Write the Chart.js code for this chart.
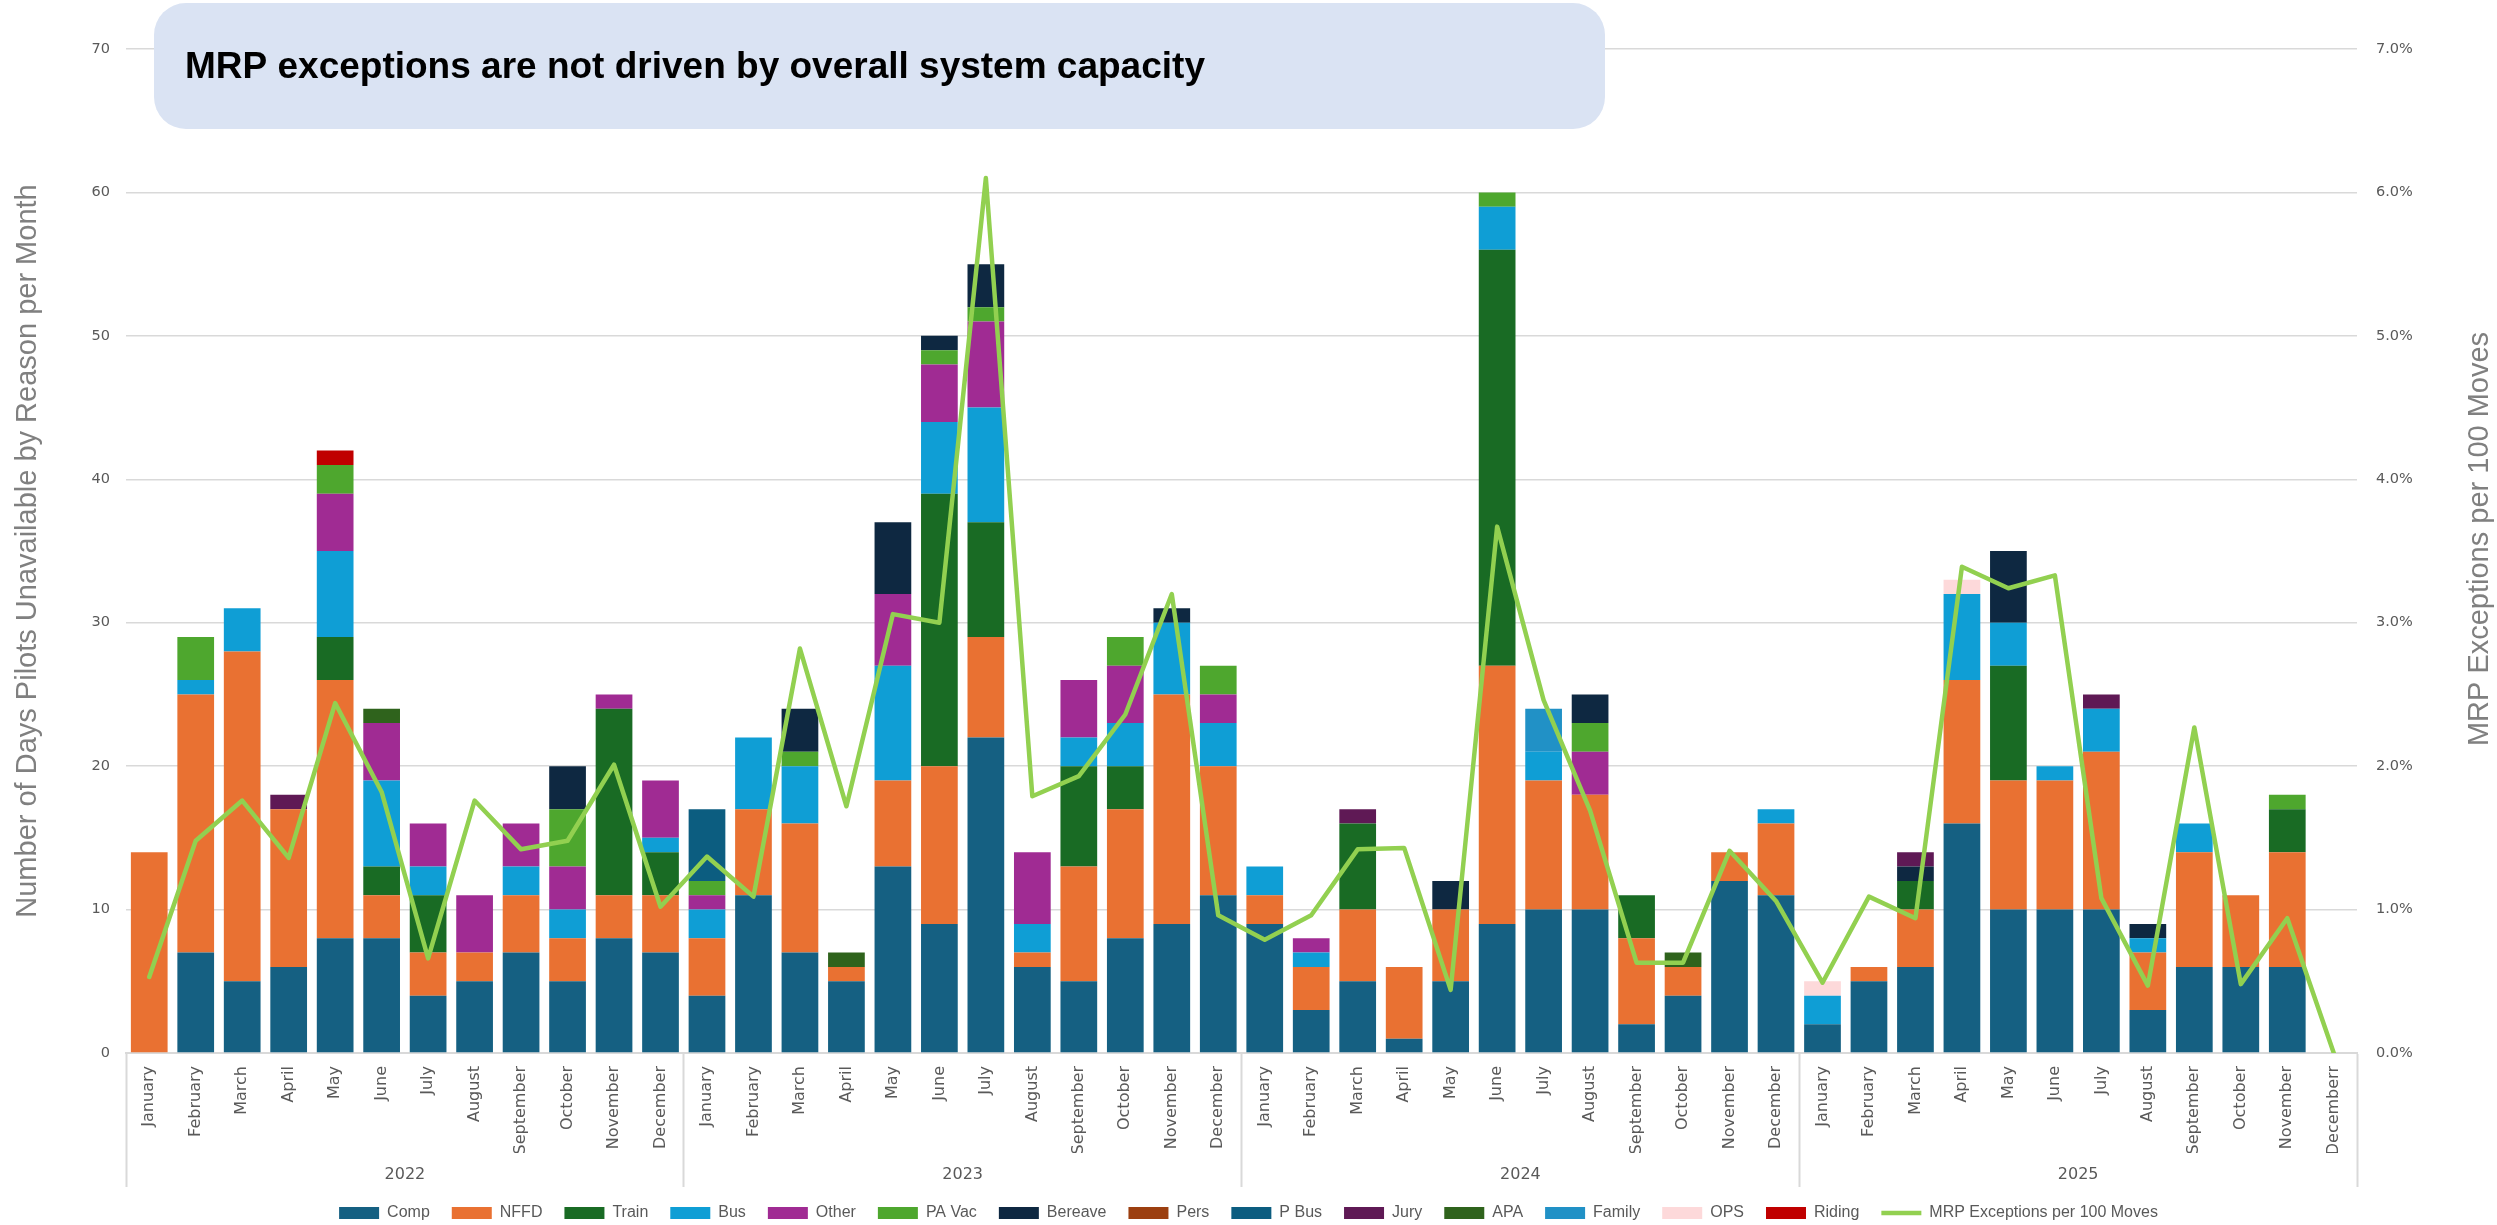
<!DOCTYPE html>
<html>
<head>
<meta charset="utf-8">
<script src="https://cdn.jsdelivr.net/npm/chart.js@4.4.1/dist/chart.umd.min.js"></script>
<style>
  html, body { margin: 0; padding: 0; background: #ffffff; }
  #wrap { width: 2497px; height: 1225px; position: relative; }
</style>
</head>
<body>
<div id="wrap"><canvas id="c" width="2497" height="1225"></canvas></div>
<script>
// Month categories (two-level axis: month / year)
const categories = [
  'January','February','March','April','May','June','July','August','September','October','November','December',
  'January','February','March','April','May','June','July','August','September','October','November','December',
  'January','February','March','April','May','June','July','August','September','October','November','December',
  'January','February','March','April','May','June','July','August','September','October','November','Decemberr'
];
const yearLabels = ['2022', '2023', '2024', '2025'];

// Days pilots unavailable, by reason (Jan 2022 .. Dec 2025)
const comp    = [0,7,5,6,8,8,4,5,7,5,8,7,  4,11,7,5,13,9,22,6,5,8,9,11,  9,3,5,1,5,9,10,10,2,4,12,11,  2,5,6,16,10,10,10,3,6,6,6,0];
const nffd    = [14,18,23,11,18,3,3,2,4,3,3,4,  4,6,9,1,6,11,7,1,8,9,16,9,  2,3,5,5,5,18,9,8,6,2,2,5,  0,1,4,10,9,9,11,4,8,5,8,0];
const train   = [0,0,0,0,3,2,4,0,0,0,13,3,  0,0,0,0,0,19,8,0,7,3,0,0,  0,0,6,0,0,29,0,0,3,0,0,0,  0,0,2,0,8,0,0,0,0,0,3,0];
const bus     = [0,1,3,0,6,6,2,0,2,2,0,1,  2,5,4,0,8,5,8,2,2,3,5,3,  2,1,0,0,0,3,2,0,0,0,0,1,  2,0,0,6,3,1,3,1,2,0,0,0];
const other   = [0,0,0,0,4,4,3,4,3,3,1,4,  1,0,0,0,5,4,6,5,4,4,0,2,  0,1,0,0,0,0,0,3,0,0,0,0,  0,0,0,0,0,0,0,0,0,0,0,0];
const paVac   = [0,3,0,0,2,0,0,0,0,4,0,0,  1,0,1,0,0,1,1,0,0,2,0,2,  0,0,0,0,0,1,0,2,0,0,0,0,  0,0,0,0,0,0,0,0,0,0,1,0];
const bereave = [0,0,0,0,0,0,0,0,0,3,0,0,  0,0,3,0,5,1,3,0,0,0,1,0,  0,0,0,0,2,0,0,2,0,0,0,0,  0,0,1,0,5,0,0,1,0,0,0,0];
const pers    = [0,0,0,0,0,0,0,0,0,0,0,0,  0,0,0,0,0,0,0,0,0,0,0,0,  0,0,0,0,0,0,0,0,0,0,0,0,  0,0,0,0,0,0,0,0,0,0,0,0];
const pBus    = [0,0,0,0,0,0,0,0,0,0,0,0,  5,0,0,0,0,0,0,0,0,0,0,0,  0,0,0,0,0,0,0,0,0,0,0,0,  0,0,0,0,0,0,0,0,0,0,0,0];
const jury    = [0,0,0,1,0,0,0,0,0,0,0,0,  0,0,0,0,0,0,0,0,0,0,0,0,  0,0,1,0,0,0,0,0,0,0,0,0,  0,0,1,0,0,0,1,0,0,0,0,0];
const apa     = [0,0,0,0,0,1,0,0,0,0,0,0,  0,0,0,1,0,0,0,0,0,0,0,0,  0,0,0,0,0,0,0,0,0,1,0,0,  0,0,0,0,0,0,0,0,0,0,0,0];
const family  = [0,0,0,0,0,0,0,0,0,0,0,0,  0,0,0,0,0,0,0,0,0,0,0,0,  0,0,0,0,0,0,3,0,0,0,0,0,  0,0,0,0,0,0,0,0,0,0,0,0];
const ops     = [0,0,0,0,0,0,0,0,0,0,0,0,  0,0,0,0,0,0,0,0,0,0,0,0,  0,0,0,0,0,0,0,0,0,0,0,0,  1,0,0,1,0,0,0,0,0,0,0,0];
const riding  = [0,0,0,0,1,0,0,0,0,0,0,0,  0,0,0,0,0,0,0,0,0,0,0,0,  0,0,0,0,0,0,0,0,0,0,0,0,  0,0,0,0,0,0,0,0,0,0,0,0];

// MRP exceptions per 100 moves (%)
const mrpRate = [
  0.53,1.48,1.76,1.36,2.44,1.82,0.66,1.76,1.42,1.48,2.01,1.02,
  1.37,1.09,2.82,1.72,3.06,3.00,6.10,1.79,1.93,2.36,3.20,0.96,
  0.79,0.96,1.42,1.43,0.44,3.67,2.46,1.69,0.63,0.63,1.41,1.06,
  0.49,1.09,0.94,3.39,3.24,3.33,1.08,0.47,2.27,0.48,0.94,0.00
];

const reasonSeries = [
  { label: 'Comp',    data: comp,    color: '#156082' },
  { label: 'NFFD',    data: nffd,    color: '#E97132' },
  { label: 'Train',   data: train,   color: '#196B24' },
  { label: 'Bus',     data: bus,     color: '#0F9ED5' },
  { label: 'Other',   data: other,   color: '#A02B93' },
  { label: 'PA Vac',  data: paVac,   color: '#4EA72E' },
  { label: 'Bereave', data: bereave, color: '#0E2841' },
  { label: 'Pers',    data: pers,    color: '#9C3F10' },
  { label: 'P Bus',   data: pBus,    color: '#0C5D80' },
  { label: 'Jury',    data: jury,    color: '#5F1955' },
  { label: 'APA',     data: apa,     color: '#2F631C' },
  { label: 'Family',  data: family,  color: '#2191C6' },
  { label: 'OPS',     data: ops,     color: '#FDD9DA' },
  { label: 'Riding',  data: riding,  color: '#C00000' }
];

const TEXT_GREY = '#595959';
const TITLE_GREY = '#808080';
const GRID_GREY = '#D9D9D9';

const datasets = reasonSeries.map(s => ({
  type: 'bar',
  label: s.label,
  data: s.data,
  backgroundColor: s.color,
  borderWidth: 0,
  pointStyle: 'rect',
  barPercentage: 0.79,
  categoryPercentage: 1.0,
  yAxisID: 'y',
  order: 1
}));

datasets.push({
  type: 'line',
  label: 'MRP Exceptions per 100 Moves',
  data: mrpRate,
  borderColor: '#92D050',
  backgroundColor: '#92D050',
  borderWidth: 4.5,
  borderCapStyle: 'round',
  borderJoinStyle: 'round',
  pointRadius: 0,
  pointStyle: 'line',
  tension: 0,
  yAxisID: 'y1',
  order: 0
});

// Headline banner and the right-hand axis title
const decorations = {
  id: 'decorations',
  afterDraw(chart) {
    const ctx = chart.ctx;
    ctx.save();
    const x = 154, y = 3, w = 1451, h = 126, r = 32;
    ctx.beginPath();
    ctx.roundRect(x, y, w, h, r);
    ctx.fillStyle = '#DAE3F3';
    ctx.fill();
    ctx.fillStyle = '#000000';
    ctx.font = "bold 37px 'Liberation Sans', Arial, sans-serif";
    ctx.textBaseline = 'middle';
    ctx.textAlign = 'left';
    ctx.fillText('MRP exceptions are not driven by overall system capacity', 185, 68);

    const area = chart.chartArea;
    ctx.translate(2480, (area.top + area.bottom) / 2 - 12);
    ctx.rotate(-Math.PI / 2);
    ctx.font = "29px 'Liberation Sans', Arial, sans-serif";
    ctx.fillStyle = TITLE_GREY;
    ctx.textAlign = 'center';
    ctx.textBaseline = 'middle';
    ctx.fillText('MRP Exceptions per 100 Moves', 0, 0);
    ctx.restore();
  }
};

Chart.defaults.font.family = "'DejaVu Sans', sans-serif";
Chart.defaults.color = TEXT_GREY;

new Chart(document.getElementById('c'), {
  data: { labels: categories, datasets },
  plugins: [decorations],
  options: {
    responsive: false,
    animation: false,
    devicePixelRatio: 1,
    layout: { padding: { top: 49, left: 0, right: 0, bottom: -6 } },
    plugins: {
      tooltip: { enabled: false },
      title: { display: false },
      legend: {
        position: 'bottom',
        labels: {
          usePointStyle: true,
          pointStyleWidth: 40,
          boxHeight: 12,
          padding: 22,
          color: TEXT_GREY,
          font: { family: "'Liberation Sans', Arial, sans-serif", size: 16 },
          sort: (a, b) => a.datasetIndex - b.datasetIndex
        }
      }
    },
    scales: {
      x: {
        type: 'category',
        stacked: true,
        offset: true,
        weight: 0,
        afterFit: (s) => { s.height = 100; },
        border: { display: true, color: GRID_GREY, width: 2 },
        grid: {
          offset: true,
          drawOnChartArea: false,
          drawTicks: true,
          tickLength: 134,
          tickWidth: 2,
          tickColor: (c) => (c.index === undefined || c.index % 12 === 0) ? GRID_GREY : 'rgba(0,0,0,0)'
        },
        ticks: {
          autoSkip: false,
          minRotation: 90,
          maxRotation: 90,
          padding: -121,
          color: TEXT_GREY,
          font: { size: 16 }
        }
      },
      x2: {
        type: 'category',
        position: 'bottom',
        labels: yearLabels,
        offset: true,
        weight: 1,
        afterFit: (s) => { s.height = 30; },
        border: { display: false },
        grid: { display: false, drawTicks: false },
        ticks: { padding: 12, maxRotation: 0, color: TEXT_GREY, font: { size: 16 } }
      },
      y: {
        position: 'left',
        stacked: true,
        min: 0,
        max: 70,
        afterFit: (s) => { s.width = 126; },
        border: { display: false },
        grid: { color: GRID_GREY, lineWidth: 1.5, drawTicks: false },
        ticks: { stepSize: 10, padding: 16, color: TEXT_GREY, font: { size: 14.5 } },
        title: {
          display: true,
          text: 'Number of Days Pilots Unavailable by Reason per Month',
          color: TITLE_GREY,
          font: { family: "'Liberation Sans', Arial, sans-serif", size: 29 },
          padding: { top: 11, bottom: 0 }
        }
      },
      y1: {
        position: 'right',
        min: 0,
        max: 7,
        afterFit: (s) => { s.width = 140; },
        border: { display: false },
        grid: { display: false, drawTicks: false },
        ticks: {
          stepSize: 1,
          padding: 19,
          color: TEXT_GREY,
          font: { size: 14.5 },
          callback: (v) => v.toFixed(1) + '%'
        }
      }
    }
  }
});
</script>
</body>
</html>
